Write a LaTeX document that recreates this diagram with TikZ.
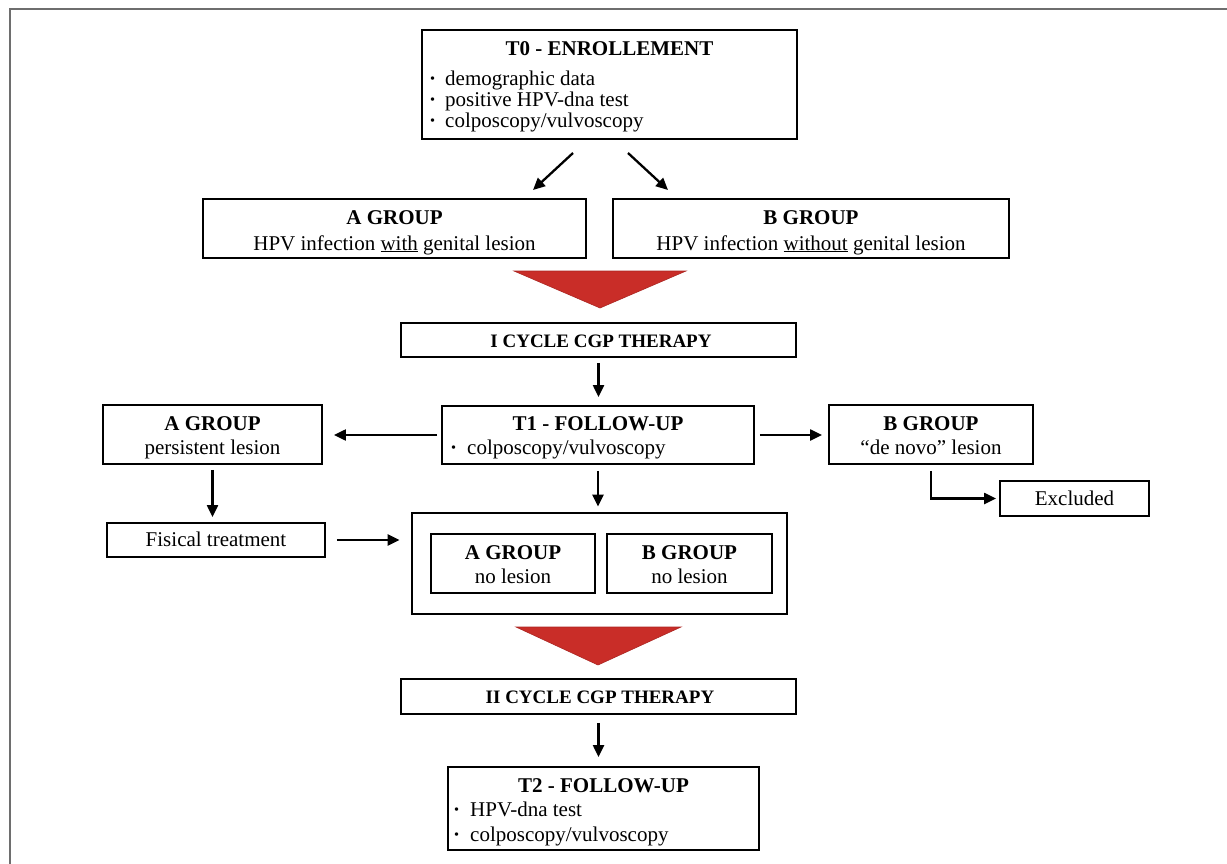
\documentclass[tikz,border=0pt]{standalone}
\usepackage{fontspec}
\setmainfont{Liberation Serif}
\usetikzlibrary{arrows.meta}
\definecolor{trired}{RGB}{201,45,40}
\definecolor{framegray}{RGB}{110,110,110}
\begin{document}
\begin{tikzpicture}[x=1pt,y=-1pt,
 box/.style={draw=black, line width=1.9pt, inner sep=0pt, rectangle},
 bigbox/.style={box, line width=2.8pt},
 txt/.style={inner sep=0pt, anchor=base, font=\fontsize{21}{21}\selectfont},
 ttl/.style={inner sep=0pt, anchor=base, font=\fontsize{21}{21}\selectfont\bfseries},
 cyc/.style={inner sep=0pt, anchor=base, font=\fontsize{19}{19}\selectfont\bfseries},
 lft/.style={txt, anchor=base west},
 bul/.style={inner sep=0pt, anchor=base west, font=\fontsize{21}{21}\selectfont\bfseries},
 arr/.style={line width=2.3pt, -{Triangle[length=12pt,width=11pt]}},
 tri/.style={fill=trired, draw=trired!85!black, line width=0.6pt}]
\useasboundingbox (0,0) rectangle (1227,864);
\fill[white] (0,0) rectangle (1227,864);
\draw[framegray, line width=2.5pt] (10,864) -- (10,9) -- (1227,9);

% T0
\node[box, minimum width=375pt, minimum height=109pt] (t0) at (609.5,84.5) {};
\node[ttl] (t0t) at (609.5,56) {T0 - ENROLLEMENT};
\node[bul] (t0b1) at (429,86) {·};
\node[lft] (t0l1) at (445,86) {demographic data};
\node[bul] (t0b2) at (429,107) {·};
\node[lft] (t0l2) at (445,107) {positive HPV-dna test};
\node[bul] (t0b3) at (429,128) {·};
\node[lft] (t0l3) at (445,128) {colposcopy/vulvoscopy};

\coordinate (d1a) at (573,153);
\coordinate (d1b) at (533,190);
\coordinate (d2a) at (628,153);
\coordinate (d2b) at (668,190);
\draw[arr] (d1a) -- (d1b);
\draw[arr] (d2a) -- (d2b);

% A / B groups
\node[box, minimum width=383pt, minimum height=59pt] (ag) at (394.5,228.5) {};
\node[ttl] (agt) at (394.5,225) {A GROUP};
\node[txt] (ags) at (394.5,250) {HPV infection \underline{with} genital lesion};
\node[box, minimum width=396pt, minimum height=59pt] (bg) at (811,228.5) {};
\node[ttl] (bgt) at (811,225) {B GROUP};
\node[txt] (bgs) at (811,250) {HPV infection \underline{without} genital lesion};

\path[tri] (514,271) -- (686,271) -- (600,308) -- cycle;

% I cycle
\node[box, minimum width=395pt, minimum height=34pt] (i1) at (598.5,340) {};
\node[cyc] (i1t) at (601,347) {I CYCLE CGP THERAPY};

% T1
\node[box, minimum width=312pt, minimum height=58pt] (t1) at (598,435) {};
\node[ttl] (t1t) at (598,430) {T1 - FOLLOW-UP};
\node[bul] (t1b1) at (450,454) {·};
\node[lft] (t1l1) at (467,454) {colposcopy/vulvoscopy};

% A persistent
\node[box, minimum width=219pt, minimum height=59pt] (ap) at (212.5,434.5) {};
\node[ttl] (apt) at (212.5,430) {A GROUP};
\node[txt] (aps) at (212.5,454) {persistent lesion};

% B de novo
\node[box, minimum width=204pt, minimum height=59pt] (bn) at (931,434.5) {};
\node[ttl] (bnt) at (931,430) {B GROUP};
\node[txt] (bns) at (931,454) {“de novo” lesion};

% Excluded
\node[box, minimum width=149pt, minimum height=35pt] (ex) at (1074.5,498.5) {};
\node[txt] (ext) at (1074.5,505) {Excluded};

% Fisical treatment
\node[box, minimum width=218pt, minimum height=34pt] (fis) at (216,540) {};
\node[txt] (fist) at (216,546) {Fisical treatment};

% big box
\node[bigbox, minimum width=375pt, minimum height=101pt] (big) at (599.5,563.5) {};
\node[box, minimum width=164pt, minimum height=59pt] (ia) at (513,563.5) {};
\node[ttl] (iat) at (513,559) {A GROUP};
\node[txt] (ias) at (513,583) {no lesion};
\node[box, minimum width=165pt, minimum height=59pt] (ib) at (689.5,563.5) {};
\node[ttl] (ibt) at (689.5,559) {B GROUP};
\node[txt] (ibs) at (689.5,583) {no lesion};

\path[tri] (516,627) -- (681,627) -- (598,665) -- cycle;

% II cycle
\node[box, minimum width=395pt, minimum height=35pt] (i2) at (598.5,696.5) {};
\node[cyc] (i2t) at (600,703) {II CYCLE CGP THERAPY};

% T2
\node[box, minimum width=311pt, minimum height=83pt] (t2) at (603.5,808.5) {};
\node[ttl] (t2t) at (603.5,792) {T2 - FOLLOW-UP};
\node[bul] (t2b1) at (453,816) {·};
\node[lft] (t2l1) at (470,816) {HPV-dna test};
\node[bul] (t2b2) at (453,841) {·};
\node[lft] (t2l2) at (470,841) {colposcopy/vulvoscopy};

% connectors
\draw[arr, shorten <=5pt, shorten >=8pt] (i1.south) -- (i1.south |- t1.north);
\draw[arr, shorten <=4pt, shorten >=11pt] (t1.west) -- (t1.west -| ap.east);
\draw[arr, shorten <=5pt, shorten >=6pt] (t1.east) -- (t1.east -| bn.west);
\draw[arr, shorten <=5pt, shorten >=5pt] (ap.south) -- (ap.south |- fis.north);
\draw[arr, shorten <=11pt, shorten >=11pt] (fis.east) -- (fis.east -| big.west);
\draw[arr, shorten <=6pt, shorten >=5pt] (t1.south) -- (t1.south |- big.north);
\draw[arr, shorten <=6pt, shorten >=3pt] (bn.south) |- (ex.west);
\draw[arr, shorten <=8pt, shorten >=9pt] (i2.south) -- (i2.south |- t2.north);
\end{tikzpicture}
\end{document}
